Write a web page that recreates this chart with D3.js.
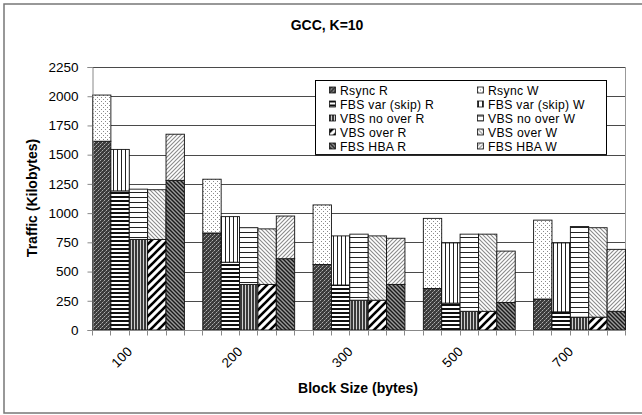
<!DOCTYPE html>
<html>
<head>
<meta charset="utf-8">
<script src="https://cdn.jsdelivr.net/npm/d3@7"></script>
<style>
  body { margin: 0; background: #fff; }
  svg { display: block; font-family: "Liberation Sans", Arial, sans-serif; }
</style>
</head>
<body>
<svg id="chart" width="642" height="415"></svg>
<script>
// block sizes (one group each) and the five methods drawn in every group
const sizes   = ['100', '200', '300', '500', '700'];
const methods = ['Rsync', 'FBS var (skip)', 'VBS no over', 'VBS over', 'FBS HBA'];

// traffic in kilobytes, read (R) and written (W), per block size
const rsyncR   = [1615, 830, 560, 355, 265];
const rsyncW   = [395, 460, 510, 600, 675];
const fbsVarR  = [1190, 580, 385, 230, 155];
const fbsVarW  = [355, 390, 420, 515, 590];
const vbsNoR   = [775, 390, 255, 160, 110];
const vbsNoW   = [430, 485, 565, 660, 775];
const vbsOverR = [775, 390, 255, 160, 110];
const vbsOverW = [425, 475, 550, 660, 765];
const hbaR     = [1280, 610, 390, 235, 160];
const hbaW     = [395, 365, 395, 440, 530];

const yTicks = d3.range(0, 2251, 250);

const series = [
  { R: rsyncR,   W: rsyncW },
  { R: fbsVarR,  W: fbsVarW },
  { R: vbsNoR,   W: vbsNoW },
  { R: vbsOverR, W: vbsOverW },
  { R: hbaR,     W: hbaW }
];

const svg = d3.select('#chart');
const defs = svg.append('defs');

// fill patterns, one per legend entry (method x R/W)
function pat(id, w, h, bg, draw) {
  const p = defs.append('pattern').attr('id', id)
    .attr('patternUnits', 'userSpaceOnUse').attr('width', w).attr('height', h);
  p.append('rect').attr('width', w).attr('height', h).attr('fill', bg);
  draw(p);
}
const px = (p, x, y, c, w = 1, h = 1) => p.append('rect').attr('x', x).attr('y', y).attr('width', w).attr('height', h).attr('fill', c);
const ln = (p, x1, y1, x2, y2, c, sw) => p.append('line').attr('x1', x1).attr('y1', y1).attr('x2', x2).attr('y2', y2)
  .attr('stroke', c).attr('stroke-width', sw);

pat('p0R', 4, 4, '#3c3c3c', p => { px(p, 0, 0, '#b0b0b0'); px(p, 2, 2, '#b0b0b0'); px(p, 1, 3, '#777'); px(p, 3, 1, '#777'); });
pat('p0W', 4, 4, '#fff', p => { px(p, 1, 1, '#8a8a8a'); px(p, 3, 3, '#8a8a8a'); });
pat('p1R', 4, 4, '#fff', p => { px(p, 0, 0, '#111', 4, 2); });
pat('p1W', 4, 4, '#fff', p => { px(p, 1, 0, '#222', 1, 4); });
pat('p2R', 3, 3, '#d0d0d0', p => { px(p, 0, 0, '#3a3a3a', 2, 3); });
pat('p2W', 5, 5, '#fff', p => { px(p, 0, 2, '#222', 5, 1); });
pat('p3R', 8, 8, '#fff', p => { ln(p, 0, 8, 8, 0, '#000', 2.6); ln(p, -1, 1, 1, -1, '#000', 2.6); ln(p, 7, 9, 9, 7, '#000', 2.6); });
pat('p3W', 4, 4, '#fff', p => { ln(p, 0, 0, 4, 4, '#8a8a8a', 1.1); ln(p, -1, 3, 1, 5, '#8a8a8a', 1.1); ln(p, 3, -1, 5, 1, '#8a8a8a', 1.1); });
pat('p4R', 4, 4, '#9a9a9a', p => { ln(p, 0, 0, 4, 4, '#1a1a1a', 1.4); ln(p, -1, 3, 1, 5, '#1a1a1a', 1.4); ln(p, 3, -1, 5, 1, '#1a1a1a', 1.4); });
pat('p4W', 4, 4, '#fff', p => { ln(p, 0, 4, 4, 0, '#8a8a8a', 1.1); ln(p, -1, 1, 1, -1, '#8a8a8a', 1.1); ln(p, 3, 5, 5, 3, '#8a8a8a', 1.1); });

// outer chart frame
svg.append('rect').attr('x', 4).attr('y', 4).attr('width', 640).attr('height', 409)
  .attr('fill', '#fff').attr('stroke', '#777').attr('stroke-width', 1.5);

const pLeft = 92, pRight = 625, pTop = 67, pBottom = 330;

// 29 category slots: 5 groups of 5 bars with an empty slot between groups
const nSlots = sizes.length * (methods.length + 1) - 1;
const x = d3.scaleBand().domain(d3.range(nSlots)).range([pLeft, pRight]).padding(0);
const y = d3.scaleLinear().domain([0, 2250]).range([pBottom, pTop]);

// gridlines
svg.append('g').selectAll('line').data(yTicks.filter(v => v > 0)).join('line')
  .attr('x1', pLeft).attr('x2', pRight)
  .attr('y1', d => Math.round(y(d)) + 0.5).attr('y2', d => Math.round(y(d)) + 0.5)
  .attr('stroke', '#4a4a4a').attr('stroke-width', 1);
// plot area right edge
svg.append('line').attr('x1', pRight + 0.5).attr('x2', pRight + 0.5).attr('y1', pTop).attr('y2', pBottom)
  .attr('stroke', '#999');

// bars
const rows = [];
sizes.forEach((s, g) => methods.forEach((m, k) => {
  const slot = g * (methods.length + 1) + k;
  const r = series[k].R[g], w = series[k].W[g];
  rows.push({ slot, y0: 0, y1: r, fill: `url(#p${k}R)` });
  rows.push({ slot, y0: r, y1: r + w, fill: `url(#p${k}W)` });
}));
svg.append('g').selectAll('rect').data(rows).join('rect')
  .attr('x', d => x(d.slot) + 0.5)
  .attr('width', x.bandwidth())
  .attr('y', d => y(d.y1))
  .attr('height', d => y(d.y0) - y(d.y1))
  .attr('fill', d => d.fill)
  .attr('stroke', '#111').attr('stroke-width', 0.9);

// y axis
const yAxis = svg.append('g').attr('transform', `translate(${pLeft + 0.5},0)`)
  .call(d3.axisLeft(y).tickValues(yTicks).tickSize(5).tickPadding(9).tickFormat(d3.format('d')));
yAxis.select('.domain').attr('stroke', '#888');
yAxis.selectAll('.tick line').attr('stroke', '#888');
yAxis.selectAll('text').attr('font-size', 13.5).attr('fill', '#000')
  .attr('font-family', '"Liberation Sans", Arial, sans-serif');

// x axis: a tick at every slot boundary, labels under the middle bar of each group
const xa = svg.append('g').attr('transform', `translate(0,${pBottom + 0.5})`);
xa.append('line').attr('x1', pLeft).attr('x2', pRight).attr('stroke', '#888');
xa.selectAll('line.t').data(d3.range(nSlots + 1)).join('line').attr('class', 't')
  .attr('x1', i => Math.round(pLeft + i * x.step()) + 0.5).attr('x2', i => Math.round(pLeft + i * x.step()) + 0.5)
  .attr('y1', 0).attr('y2', 5).attr('stroke', '#888');
xa.selectAll('text').data(sizes).join('text')
  .attr('transform', (s, g) => {
    const c = x(g * (methods.length + 1) + 2) + x.bandwidth() / 2;
    return `translate(${c - 5},${22}) rotate(-45)`;
  })
  .attr('text-anchor', 'end').attr('font-size', 13.5).text(s => s);

// titles
svg.append('text').attr('x', 327).attr('y', 30).attr('text-anchor', 'middle')
  .attr('font-size', 14).attr('font-weight', 'bold').text('GCC, K=10');
svg.append('text').attr('x', 358).attr('y', 393).attr('text-anchor', 'middle')
  .attr('font-size', 14).attr('font-weight', 'bold').text('Block Size (bytes)');
svg.append('text').attr('transform', 'translate(37,198) rotate(-90)').attr('text-anchor', 'middle')
  .attr('font-size', 14).attr('font-weight', 'bold').text('Traffic (Kilobytes)');

// legend
const rowH = 14;
const lg = svg.append('g');
lg.append('rect').attr('x', 315.5).attr('y', 80.5).attr('width', 291).attr('height', 74)
  .attr('fill', '#fff').attr('stroke', '#000').attr('stroke-width', 1);
lg.append('line').attr('x1', 315).attr('x2', 607).attr('y1', 155).attr('y2', 155).attr('stroke', '#222').attr('stroke-width', 1.5);
const items = [];
methods.forEach((m, k) => {
  items.push({ label: m + ' R', fill: `url(#p${k}R)`, col: 0, row: k });
  items.push({ label: m + ' W', fill: `url(#p${k}W)`, col: 1, row: k });
});
const li = lg.selectAll('g.it').data(items).join('g').attr('class', 'it')
  .attr('transform', d => `translate(${d.col ? 477 : 329},${90.5 + d.row * rowH})`);
li.append('rect').attr('x', 0.5).attr('y', -3.5).attr('width', 6).attr('height', 6)
  .attr('fill', d => d.fill).attr('stroke', '#111').attr('stroke-width', 0.8);
li.append('text').attr('x', 11).attr('y', 4.5).attr('font-size', 12.2).attr('textLength', null)
  .style('letter-spacing', '0.3px').text(d => d.label);
</script>
</body>
</html>
